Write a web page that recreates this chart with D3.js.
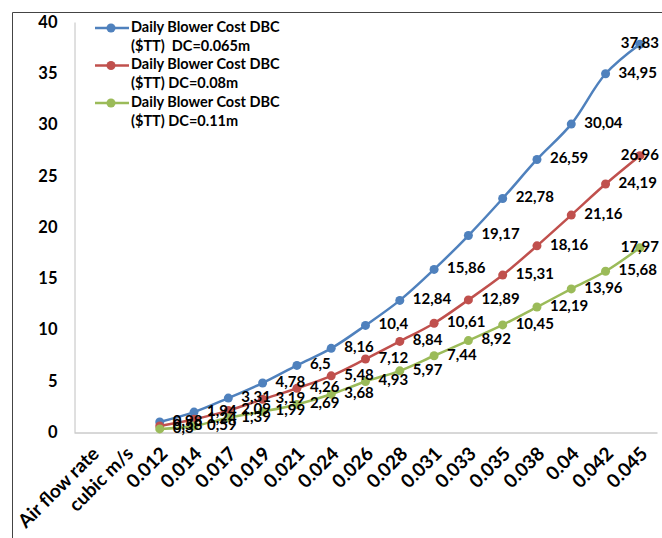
<!DOCTYPE html>
<html>
<head>
<meta charset="utf-8">
<script src="https://cdn.jsdelivr.net/npm/d3@7"></script>
<style>
  html, body { margin: 0; padding: 0; background: #fff; }
  svg { display: block; }
  text { font-family: Lato, "Open Sans", sans-serif; font-weight: bold; fill: #000; }
</style>
</head>
<body>
<svg id="chart" width="662" height="538"></svg>
<script>
const categories = ["Air flow rate", "cubic m/s", "0.012", "0.014", "0.017", "0.019", "0.021", "0.024", "0.026", "0.028", "0.031", "0.033", "0.035", "0.038", "0.04", "0.042", "0.045"];
const dbc065 = [null, null, 0.98, 1.94, 3.31, 4.78, 6.5, 8.16, 10.4, 12.84, 15.86, 19.17, 22.78, 26.59, 30.04, 34.95, 37.83];
const dbc080 = [null, null, 0.58, 1.24, 2.09, 3.19, 4.26, 5.48, 7.12, 8.84, 10.61, 12.89, 15.31, 18.16, 21.16, 24.19, 26.96];
const dbc110 = [null, null, 0.30, 0.59, 1.39, 1.99, 2.69, 3.68, 4.93, 5.97, 7.44, 8.92, 10.45, 12.19, 13.96, 15.68, 17.97];
const yTicks = [0, 5, 10, 15, 20, 25, 30, 35, 40];
const seriesNames = [
  ["Daily Blower Cost DBC", "($TT)  DC=0.065m"],
  ["Daily Blower Cost DBC", "($TT) DC=0.08m"],
  ["Daily Blower Cost DBC", "($TT) DC=0.11m"]
];
const seriesColors = ["#4F81BD", "#C0504D", "#9BBB59"];
const seriesValues = [dbc065, dbc080, dbc110];

const svg = d3.select("#chart");

// outer chart border (top & left visible)
svg.append("path")
  .attr("d", "M12.5,538 L12.5,12.5 L662,12.5")
  .attr("fill", "none").attr("stroke", "#444").attr("stroke-width", 1);

const x = d3.scalePoint().domain(categories).range([74, 657]).padding(0.5);
const y = d3.scaleLinear().domain([0, 40]).range([432, 22]);

// y axis
const yAxis = svg.append("g").attr("transform", "translate(74.5,0)")
  .call(d3.axisLeft(y).tickValues(yTicks).tickSize(0).tickSizeOuter(0).tickPadding(17).tickFormat(d3.format("d")));
yAxis.select(".domain").attr("stroke", "#c0c0c0");
yAxis.selectAll("text").style("font-size", "16.5px").style("font-family", "Lato, sans-serif").style("font-weight", "bold").attr("fill", "#000");

// x axis
const xAxis = svg.append("g").attr("transform", "translate(0,432.5)")
  .call(d3.axisBottom(x).tickSize(0).tickSizeOuter(0).tickPadding(0));
xAxis.select(".domain").attr("stroke", "#b0b0b0");
xAxis.selectAll("text")
  .style("font-size", "19px").style("font-family", "Lato, sans-serif").style("font-weight", "bold").attr("fill", "#000")
  .attr("text-anchor", "end")
  .attr("dy", null)
  .attr("dominant-baseline", "middle")
  .attr("transform", "translate(5,19) rotate(-45)");

// lines
const line = d3.line()
  .defined(d => d.v != null)
  .x(d => x(d.c))
  .y(d => y(d.v))
  .curve(d3.curveCatmullRom.alpha(0.5));

seriesValues.forEach((vals, i) => {
  const data = categories.map((c, j) => ({ c, v: vals[j] }));
  const pts = data.filter(d => d.v != null);
  const g = svg.append("g");
  g.append("path").datum(data)
    .attr("d", line).attr("fill", "none")
    .attr("stroke", seriesColors[i]).attr("stroke-width", 2.5);
  g.selectAll("circle").data(pts).join("circle")
    .attr("cx", d => x(d.c)).attr("cy", d => y(d.v)).attr("r", 4.5)
    .attr("fill", seriesColors[i]);
});

// data labels
seriesValues.forEach((vals, i) => {
  const data = categories.map((c, j) => ({ c, v: vals[j] })).filter(d => d.v != null);
  svg.append("g").selectAll("text").data(data).join("text")
    .attr("y", d => y(d.v))
    .attr("dominant-baseline", "middle")
    .style("font-size", "15px")
    .text(d => String(d.v.toFixed(2)).replace(/0+$/, "").replace(/\.$/, "").replace(".", ","))
    .each(function(d) {
      const w = this.getComputedTextLength();
      let lx = x(d.c) + 13;
      if (lx + w > 659) lx = 659 - w;
      d3.select(this).attr("x", lx);
    });
});

// legend
const legend = svg.append("g");
seriesNames.forEach((lines, i) => {
  const top = 28 + i * 37.5;
  legend.append("line").attr("x1", 95).attr("x2", 129).attr("y1", top).attr("y2", top)
    .attr("stroke", seriesColors[i]).attr("stroke-width", 2.5);
  legend.append("circle").attr("cx", 111).attr("cy", top).attr("r", 4.5).attr("fill", seriesColors[i]);
  lines.forEach((t, k) => {
    legend.append("text").attr("x", 131).attr("y", top + k * 19)
      .attr("dominant-baseline", "middle")
      .attr("xml:space", "preserve")
      .style("white-space", "pre")
      .style("font-size", "14.5px")
      .text(t);
  });
});
</script>
</body>
</html>
